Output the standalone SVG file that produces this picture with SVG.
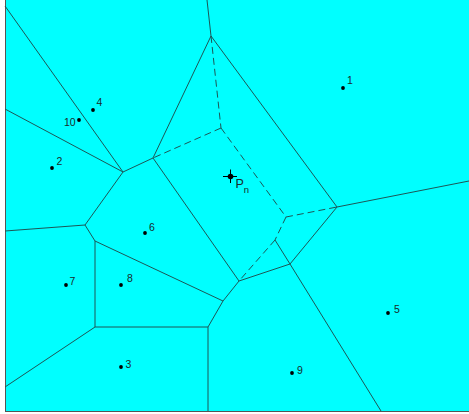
<svg xmlns="http://www.w3.org/2000/svg" width="469" height="414" viewBox="0 0 469 414">
<style>
.e{stroke:#1d5656;stroke-width:1;fill:none}
.d{stroke:#1d5656;stroke-width:1;fill:none;stroke-dasharray:7,4}
.lb{font-family:"Liberation Sans",Arial,sans-serif;font-size:10.5px;fill:#1a2a2a}
.dot{fill:#000}
</style>
<rect x="0" y="0" width="469" height="414" fill="#ffffff"/>
<rect x="5" y="0" width="464" height="411" fill="#00ffff"/>
<g id="border" stroke="#555" stroke-width="1" fill="none">
<line x1="5.5" y1="0" x2="5.5" y2="411.5"/>
<line x1="5" y1="411.5" x2="469" y2="411.5"/>
</g>
<g id="connectors">
<line class="e" x1="207" y1="0" x2="211" y2="36"/>
<line class="e" x1="211" y1="36" x2="153" y2="158"/>
<line class="e" x1="211" y1="36" x2="337" y2="207"/>
<line class="e" x1="337" y1="207" x2="469" y2="181"/>
<line class="e" x1="337" y1="207" x2="290" y2="264"/>
<line class="e" x1="290" y1="264" x2="381" y2="411"/>
<line class="e" x1="290" y1="264" x2="239" y2="281"/>
<line class="e" x1="275" y1="240" x2="290" y2="264"/>
<line class="e" x1="153" y1="158" x2="239" y2="281"/>
<line class="e" x1="153" y1="158" x2="123" y2="172"/>
<line class="e" x1="5" y1="6" x2="123" y2="172"/>
<line class="e" x1="5" y1="109" x2="123" y2="172"/>
<line class="e" x1="123" y1="172" x2="85" y2="225"/>
<line class="e" x1="5" y1="231" x2="85" y2="225"/>
<line class="e" x1="85" y1="225" x2="95" y2="241"/>
<line class="e" x1="95" y1="241" x2="223" y2="301"/>
<line class="e" x1="239" y1="281" x2="223" y2="301"/>
<line class="e" x1="223" y1="301" x2="208" y2="327"/>
<line class="e" x1="208" y1="327" x2="208" y2="411"/>
<line class="e" x1="95" y1="241" x2="95" y2="327"/>
<line class="e" x1="95" y1="327" x2="208" y2="327"/>
<line class="e" x1="95" y1="327" x2="5" y2="387"/>
<line class="d" x1="211" y1="36" x2="221" y2="128"/>
<line class="d" x1="221" y1="128" x2="153" y2="158"/>
<line class="d" x1="221" y1="128" x2="286" y2="217"/>
<line class="d" x1="286" y1="217" x2="337" y2="207"/>
<line class="d" x1="286" y1="217" x2="275" y2="240"/>
<line class="d" x1="275" y1="240" x2="239" y2="281"/>
</g>
<g id="site1"><circle class="dot" cx="343" cy="88" r="1.9"/><text class="lb" x="347" y="83.5">1</text></g>
<g id="site2"><circle class="dot" cx="52" cy="168" r="1.9"/><text class="lb" x="56.5" y="165">2</text></g>
<g id="site3"><circle class="dot" cx="121" cy="367" r="1.9"/><text class="lb" x="125.5" y="367.5">3</text></g>
<g id="site4"><circle class="dot" cx="93" cy="110" r="1.9"/><text class="lb" x="96.5" y="106">4</text></g>
<g id="site5"><circle class="dot" cx="388" cy="313" r="1.9"/><text class="lb" x="394" y="313">5</text></g>
<g id="site6"><circle class="dot" cx="145" cy="233" r="1.9"/><text class="lb" x="149" y="230.5">6</text></g>
<g id="site7"><circle class="dot" cx="66" cy="285" r="1.9"/><text class="lb" x="69.5" y="285">7</text></g>
<g id="site8"><circle class="dot" cx="121" cy="285" r="1.9"/><text class="lb" x="127" y="282.3">8</text></g>
<g id="site9"><circle class="dot" cx="292" cy="373" r="1.9"/><text class="lb" x="297" y="374">9</text></g>
<g id="site10"><circle class="dot" cx="79" cy="120" r="1.9"/><text class="lb" x="64" y="126">10</text></g>
<g id="sitePn">
<line x1="223" y1="176.5" x2="237" y2="176.5" stroke="#000" stroke-width="1"/>
<line x1="230.5" y1="169.5" x2="230.5" y2="183" stroke="#000" stroke-width="1"/>
<circle class="dot" cx="230.5" cy="176.5" r="2.8"/>
<text x="235.5" y="187.5" font-family="Liberation Sans,Arial,sans-serif" font-size="12.5" fill="#1a2a2a">P<tspan font-size="9.5" dy="5.5">n</tspan></text>
</g>
</svg>
